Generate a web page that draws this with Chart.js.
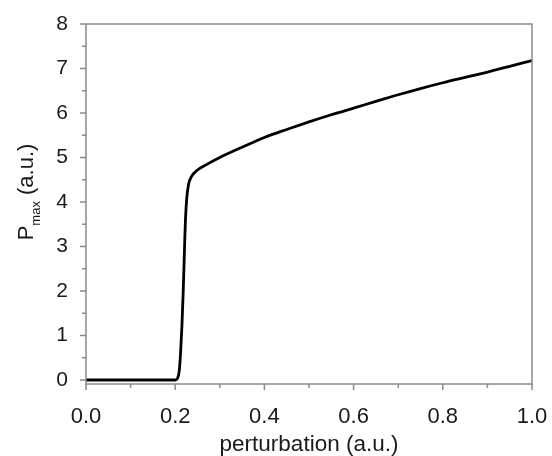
<!DOCTYPE html>
<html>
<head>
<meta charset="utf-8">
<script src="https://cdn.jsdelivr.net/npm/chart.js@4.4.1/dist/chart.umd.min.js"></script>
<style>
  html, body { margin: 0; padding: 0; background: #fff; }
  #wrap { width: 552px; height: 456px; }
</style>
</head>
<body>
<div id="wrap"><canvas id="chart"></canvas></div>
<script>
// perturbation (a.u.) and Pmax (a.u.)
const perturbation = [0, 0.05, 0.1, 0.15, 0.2, 0.205, 0.209, 0.212, 0.215, 0.218, 0.221, 0.223, 0.226, 0.23, 0.237,
  0.25, 0.27, 0.3, 0.35, 0.4, 0.45, 0.5, 0.55, 0.6, 0.65, 0.7, 0.75, 0.8, 0.85, 0.9, 0.95, 1.0];
const pmax = [0, 0, 0, 0, 0, 0.03, 0.2, 0.6, 1.2, 2.0, 3.0, 3.6, 4.1, 4.4, 4.58,
  4.72, 4.84, 5.0, 5.23, 5.45, 5.63, 5.8, 5.96, 6.11, 6.26, 6.41, 6.55, 6.68, 6.8, 6.92, 7.05, 7.18];

const xMajor = [0, 0.2, 0.4, 0.6, 0.8, 1.0];
const xMinor = [0.1, 0.3, 0.5, 0.7, 0.9];
const yMajor = [0, 1, 2, 3, 4, 5, 6, 7, 8];
const yMinor = [0.5, 1.5, 2.5, 3.5, 4.5, 5.5, 6.5, 7.5];

const FONT = '"Liberation Sans", Arial, sans-serif';
const AXIS = '#8a8a8a';
const TEXT = '#1a1a1a';

// frame, tick marks and axis titles
const frame = {
  id: 'frame',
  afterDraw(chart) {
    const { ctx, chartArea: a, scales: { x, y } } = chart;
    ctx.save();
    ctx.strokeStyle = AXIS;
    ctx.lineWidth = 1.5;
    ctx.strokeRect(a.left, a.top, a.right - a.left, a.bottom - a.top);
    ctx.beginPath();
    xMajor.forEach(v => { const p = x.getPixelForValue(v); ctx.moveTo(p, a.bottom); ctx.lineTo(p, a.bottom + 6); });
    xMinor.forEach(v => { const p = x.getPixelForValue(v); ctx.moveTo(p, a.bottom); ctx.lineTo(p, a.bottom + 4); });
    yMajor.forEach(v => { const p = y.getPixelForValue(v); ctx.moveTo(a.left, p); ctx.lineTo(a.left - 6, p); });
    yMinor.forEach(v => { const p = y.getPixelForValue(v); ctx.moveTo(a.left, p); ctx.lineTo(a.left - 4, p); });
    ctx.stroke();

    ctx.fillStyle = TEXT;
    ctx.textBaseline = 'middle';
    ctx.textAlign = 'center';
    ctx.font = '22.5px ' + FONT;
    ctx.fillText('perturbation (a.u.)', (a.left + a.right) / 2, 445);

    // y title with subscript
    ctx.translate(27, 192);
    ctx.rotate(-Math.PI / 2);
    const big = '22px ' + FONT, small = '13px ' + FONT;
    ctx.font = big; const wP = ctx.measureText('P').width;
    const wT = ctx.measureText(' (a.u.)').width;
    ctx.font = small; const wS = ctx.measureText('max').width;
    let cx = -(wP + wS + wT) / 2;
    ctx.textAlign = 'left';
    ctx.font = big; ctx.fillText('P', cx, 0); cx += wP;
    ctx.font = small; ctx.fillText('max', cx, 9); cx += wS;
    ctx.font = big; ctx.fillText(' (a.u.)', cx, 0);
    ctx.restore();
  }
};

new Chart(document.getElementById('chart'), {
  type: 'line',
  data: {
    datasets: [{
      data: perturbation.map((v, i) => ({ x: v, y: pmax[i] })),
      borderColor: '#000',
      borderWidth: 2.8,
      pointRadius: 0,
      cubicInterpolationMode: 'monotone',
      fill: false
    }]
  },
  options: {
    responsive: true,
    maintainAspectRatio: false,
    animation: false,
    layout: { padding: { left: 0, top: 24, right: 20, bottom: 0 } },
    plugins: { legend: { display: false }, tooltip: { enabled: false } },
    scales: {
      x: {
        type: 'linear', min: 0, max: 1,
        afterBuildTicks: s => { s.ticks = xMajor.map(v => ({ value: v })); },
        afterFit: s => { s.height = 72; s.paddingLeft = 0; s.paddingRight = 0; },
        grid: { display: false },
        border: { display: false },
        ticks: { padding: 12, color: TEXT, font: { family: FONT, size: 22 }, callback: v => v.toFixed(1), maxRotation: 0 }
      },
      y: {
        type: 'linear', min: -0.09, max: 8,
        afterBuildTicks: s => { s.ticks = yMajor.map(v => ({ value: v })); },
        afterFit: s => { s.width = 86; s.paddingTop = 0; s.paddingBottom = 0; },
        grid: { display: false },
        border: { display: false },
        ticks: { padding: 10, color: TEXT, font: { family: FONT, size: 21 }, callback: v => String(v) }
      }
    }
  },
  plugins: [frame]
});
</script>
</body>
</html>
